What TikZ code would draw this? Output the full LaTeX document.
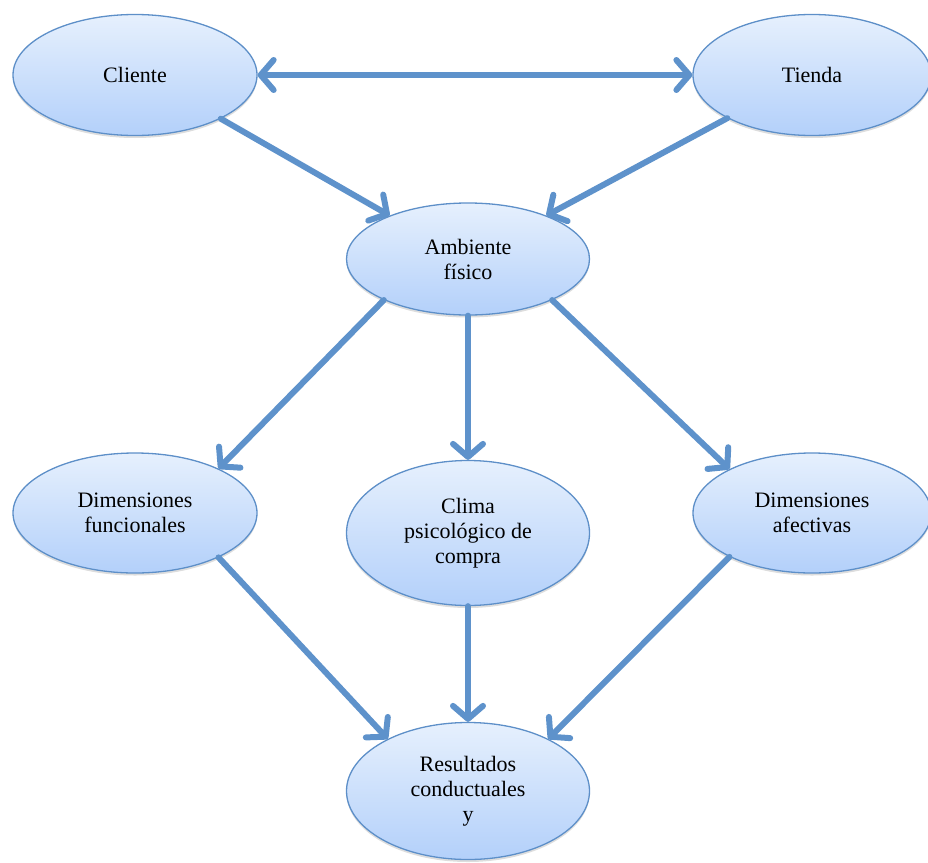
\documentclass[tikz,border=0pt]{standalone}
\usepackage{fontspec}
\setmainfont{Liberation Serif}
\usetikzlibrary{arrows.meta,shadows,shapes.geometric}
\definecolor{rim}{HTML}{5D8FC8}
\definecolor{link}{HTML}{5E92CB}
\definecolor{filltop}{HTML}{E6F0FD}
\definecolor{fillbot}{HTML}{B3D0FA}
\tikzset{
  bubble/.style={ellipse, draw=rim, line width=1.3pt, top color=filltop, bottom color=fillbot,
    inner sep=0pt, align=center, font=\fontsize{22}{25}\selectfont,
    drop shadow={opacity=0.22, shadow xshift=0pt, shadow yshift=-2.5pt, fill=black!60}},
  tip/.tip={Straight Barb[length=13pt,width=30pt,line width=6pt,round]},
  flow/.style={draw=link, line width=6pt, line cap=round, -tip},
  flowboth/.style={flow, tip-tip}
}
\begin{document}
\begin{tikzpicture}[x=1pt,y=-1pt]
\useasboundingbox (0,0) rectangle (928,862);
% concepts
\node[bubble, minimum width=244pt, minimum height=121pt] (cli) at (135,75) {Cliente};
\node[bubble, minimum width=238pt, minimum height=121pt] (tie) at (812,75) {Tienda};
\node[bubble, minimum width=243pt, minimum height=112pt] (amb) at (468,259) {Ambiente\\físico};
\node[bubble, minimum width=244pt, minimum height=120pt] (dfu) at (135,513) {Dimensiones\\funcionales};
\node[bubble, minimum width=243pt, minimum height=145pt] (cli2) at (468,533) {Clima\\psicológico de\\compra};
\node[bubble, minimum width=238pt, minimum height=120pt] (daf) at (812,513) {Dimensiones\\afectivas};
\node[bubble, minimum width=243pt, minimum height=137pt] (res) at (468,791) {Resultados\\conductuales\\y};
% relations
\draw[flowboth] (cli.east) -- (tie.west);
\draw[flow] (cli.-27) -- (amb.151);
\draw[flow] (tie.207) -- (amb.29);
\draw[flow] (amb.206) -- (dfu.28);
\draw[flow] (amb.south) -- (cli2.north);
\draw[flow] (amb.-26) -- (daf.152);
\draw[flow] (dfu.-28) -- (res.147);
\draw[flow] (cli2.south) -- (res.north);
\draw[flow] (daf.208) -- (res.33);
\end{tikzpicture}
\end{document}
